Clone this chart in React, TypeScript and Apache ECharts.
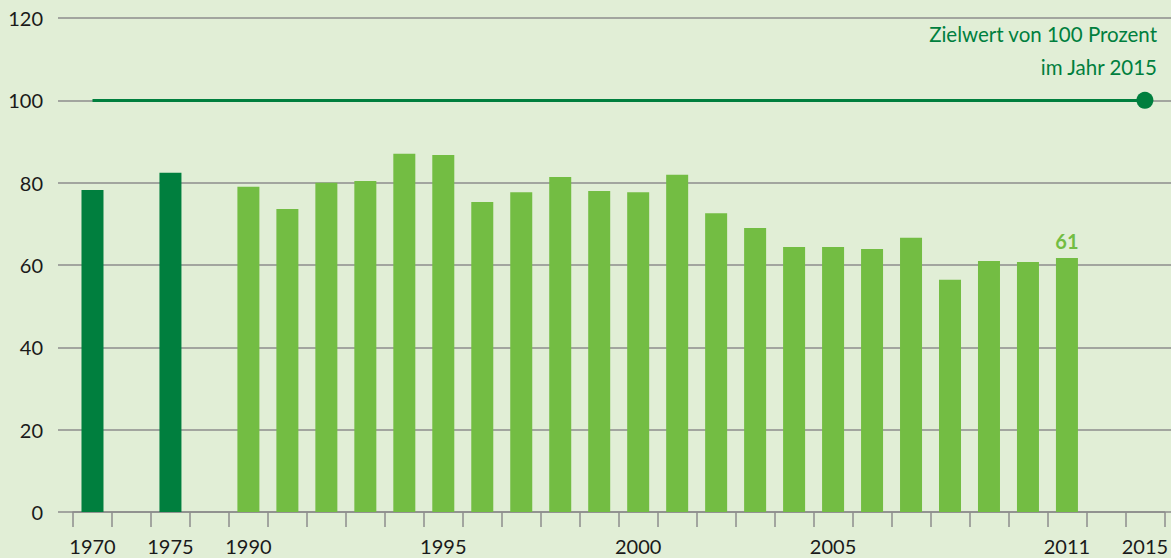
import React, { useEffect, useRef } from "react";
import * as echarts from "echarts";

const categories = [
  "1970", "g1", "1975", "g2",
  "1990", "1991", "1992", "1993", "1994", "1995", "1996", "1997", "1998", "1999",
  "2000", "2001", "2002", "2003", "2004", "2005", "2006", "2007", "2008", "2009",
  "2010", "2011", "g3", "2015",
];
const shownLabels = ["1970", "1975", "1990", "1995", "2000", "2005", "2011", "2015"];
const earlyValues: (number | null)[] = [
  78.2, null, 82.4, null,
  null, null, null, null, null, null, null, null, null, null,
  null, null, null, null, null, null, null, null, null, null,
  null, null, null, null,
];
const recentValues: (number | null)[] = [
  null, null, null, null,
  79.0, 73.6, 80.0, 80.4, 87.0, 86.7, 75.3, 77.7, 81.4, 78.0,
  77.7, 81.9, 72.6, 69.0, 64.4, 64.4, 63.9, 66.6, 56.4, 61.0,
  60.7, 61.7, null, null,
];
const highlightLabel = "61";
const targetValue = 100;
const yTicks = [0, 20, 40, 60, 80, 100, 120];
const annotationLines = ["Zielwert von 100 Prozent", "im Jahr 2015"];

const DARK = "#007f3e";
const LIGHT = "#73bd43";
const GRID = "#8c8c8c";
const FONT = "Lato";

export default function App() {
  const ref = useRef<HTMLDivElement>(null);
  useEffect(() => {
    if (!ref.current) return;
    const chart = echarts.init(ref.current, null, { renderer: "svg" });
    const lastIdx = recentValues.length - 1 - [...recentValues].reverse().findIndex((v) => v != null);
    chart.setOption({
      animation: false,
      backgroundColor: "#e1eed6",
      textStyle: { fontFamily: FONT },
      grid: [
        { left: 58, right: 0, top: 18, bottom: 46 },
        { left: 73, right: 1, top: 18, bottom: 46 },
      ],
      xAxis: [
        { gridIndex: 0, type: "category", data: categories, show: false },
        {
          gridIndex: 1,
          type: "category",
          data: categories,
          axisLine: { show: true, lineStyle: { color: GRID, width: 1.5 } },
          axisTick: { show: true, length: 15, lineStyle: { color: GRID, width: 1.5 } },
          axisLabel: {
            interval: 0,
            margin: 24,
            fontSize: 20,
            color: "#1a1a1a",
            fontFamily: FONT,
            formatter: (v: string) => (shownLabels.includes(v) ? v : ""),
          },
        },
      ],
      yAxis: [
        {
          gridIndex: 0,
          type: "value",
          min: yTicks[0],
          max: yTicks[yTicks.length - 1],
          interval: 20,
          axisLine: { show: false },
          axisTick: { show: false },
          splitLine: { show: true, lineStyle: { color: GRID, width: 1.5 } },
          axisLabel: { margin: 15, fontSize: 20, color: "#1a1a1a", fontFamily: FONT },
        },
        {
          gridIndex: 1,
          type: "value",
          min: yTicks[0],
          max: yTicks[yTicks.length - 1],
          interval: 20,
          show: false,
        },
      ],
      series: [
        {
          type: "bar",
          xAxisIndex: 1,
          yAxisIndex: 1,
          data: earlyValues,
          barWidth: 22,
          barGap: "-100%",
          itemStyle: { color: DARK },
          markLine: {
            silent: true,
            symbol: ["none", "circle"],
            symbolSize: 17,
            label: { show: false },
            lineStyle: { color: DARK, width: 3, type: "solid" },
            itemStyle: { color: DARK },
            data: [
              [
                { coord: [categories[0], targetValue] },
                { coord: [categories[categories.length - 1], targetValue] },
              ],
            ],
          },
        },
        {
          type: "bar",
          xAxisIndex: 1,
          yAxisIndex: 1,
          barWidth: 22,
          barGap: "-100%",
          itemStyle: { color: LIGHT },
          data: recentValues.map((v, i) =>
            i === lastIdx
              ? {
                  value: v,
                  label: {
                    show: true,
                    position: "top",
                    distance: 7,
                    formatter: highlightLabel,
                    color: LIGHT,
                    fontWeight: "bold",
                    fontSize: 20,
                    fontFamily: FONT,
                  },
                }
              : v
          ),
        },
      ],
      graphic: annotationLines.map((t, i) => ({
        type: "text",
        right: 14,
        top: 23 + i * 33,
        style: { text: t, fill: DARK, fontSize: 20.5, fontFamily: FONT, textAlign: "right" },
      })),
    });
    return () => chart.dispose();
  }, []);
  return (
    <div
      ref={ref}
      style={{ position: "fixed", left: 0, top: 0, width: 1171, height: 558 }}
    />
  );
}
